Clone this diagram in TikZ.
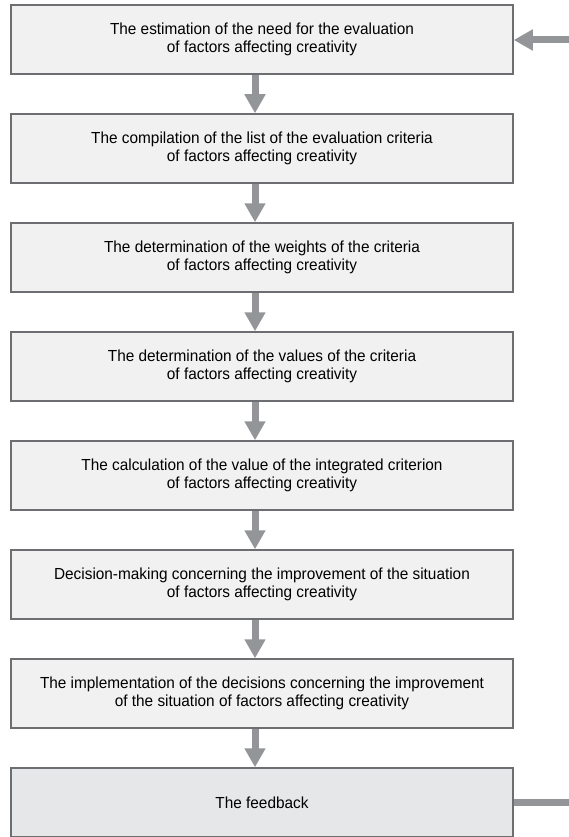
\documentclass[tikz,border=0pt]{standalone}
\usepackage{fontspec}
\setmainfont{Liberation Sans}[FakeStretch=0.96]
\usetikzlibrary{arrows.meta}
\definecolor{arrgray}{HTML}{939598}
\definecolor{edgegray}{HTML}{6D6E71}
\definecolor{boxfill}{HTML}{F1F1F1}
\definecolor{fbfill}{HTML}{E6E7E8}
\begin{document}
\begin{tikzpicture}[x=1pt,y=-1pt,
  stagebox/.style={draw=edgegray, line width=1.5pt, fill=boxfill, rectangle,
    minimum width=502pt, minimum height=69pt, inner sep=0pt, align=center,
    font=\fontsize{16}{18.5}\selectfont},
  flowarrow/.style={draw=arrgray, line width=7pt, -{Triangle[length=19pt,width=20pt]}},
  flowline/.style={draw=arrgray, line width=7pt}]
\useasboundingbox (0,0) rectangle (569,837);
\node[stagebox] (b1) at (262,39.5) {The estimation of the need for the evaluation\\of factors affecting creativity};
\node[stagebox] (b2) at (262,148.5) {The compilation of the list of the evaluation criteria\\of factors affecting creativity};
\node[stagebox] (b3) at (262,257.5) {The determination of the weights of the criteria\\of factors affecting creativity};
\node[stagebox] (b4) at (262,366.5) {The determination of the values of the criteria\\of factors affecting creativity};
\node[stagebox] (b5) at (262,475.5) {The calculation of the value of the integrated criterion\\of factors affecting creativity};
\node[stagebox] (b6) at (262,584.5) {Decision-making concerning the improvement of the situation\\of factors affecting creativity};
\node[stagebox] (b7) at (262,693.5) {The implementation of the decisions concerning the improvement\\of the situation of factors affecting creativity};
\node[stagebox, fill=fbfill] (b8) at (262,802.5) {The feedback};
\coordinate (ax) at (255,0);
\coordinate (inR) at (569,40);
\coordinate (outR) at (569,802.5);
\foreach \a/\b in {b1/b2,b2/b3,b3/b4,b4/b5,b5/b6,b6/b7,b7/b8}{
  \draw[flowarrow] (\a.south -| ax) -- (\b.north -| ax);
}
\draw[flowarrow] (inR) -- (b1.east |- inR);
\draw[flowline] (b8.east |- outR) -- (outR);
\end{tikzpicture}
\end{document}
